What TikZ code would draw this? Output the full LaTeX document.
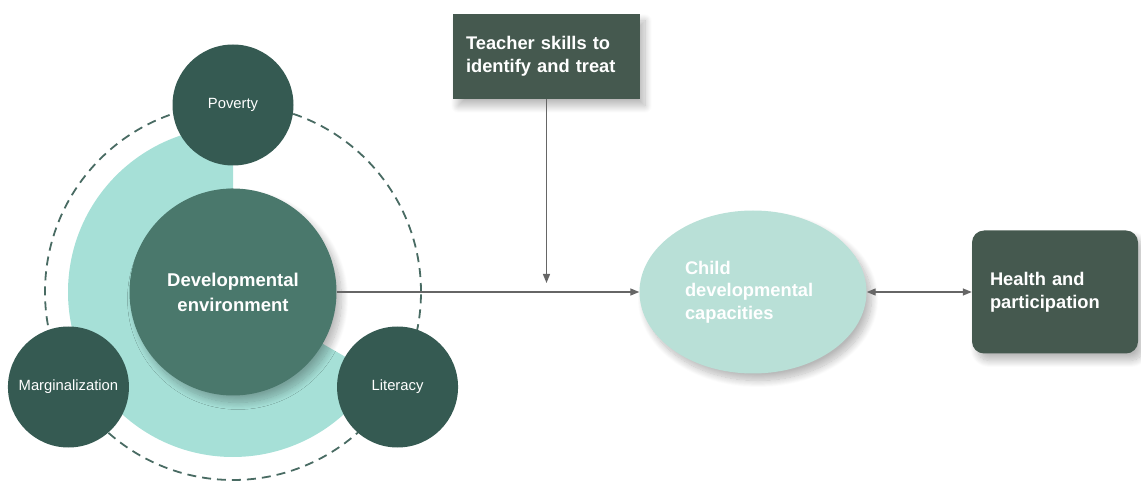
\documentclass[tikz,border=0pt]{standalone}
\usepackage{fontspec}
\setmainfont{Liberation Sans}
\usepackage{xcolor}
\usetikzlibrary{positioning, arrows.meta, shapes.geometric, shadows.blur}

\definecolor{pine}{HTML}{355A52}
\definecolor{sage}{HTML}{4A786C}
\definecolor{mint}{HTML}{A6E0D7}
\definecolor{seafoam}{HTML}{B9E0D7}
\definecolor{slate}{HTML}{45594F}
\definecolor{wire}{HTML}{666666}

\begin{document}
\begin{tikzpicture}[
    x=1pt, y=1pt,
    soft/.style={blur shadow={shadow xshift=5pt, shadow yshift=-7pt,
        shadow blur radius=7pt, shadow blur steps=14, shadow opacity=28}},
    hubnode/.style={
        circle, fill=sage, minimum size=207pt, inner sep=0pt, text=white,
        align=center, font=\fontsize{18.5}{25}\selectfont\bfseries, soft,
    },
    factor/.style={
        circle, fill=pine, minimum size=121pt, inner sep=0pt, text=white,
        font=\fontsize{14.8}{17}\selectfont,
    },
    card/.style={
        fill=slate, text=white, align=left, inner sep=0pt,
        font=\fontsize{18.3}{23}\selectfont\bfseries, soft,
    },
    outcome/.style={
        ellipse, fill=seafoam, minimum width=227pt, minimum height=163pt,
        inner sep=0pt, text=white, align=left,
        font=\fontsize{18.3}{22.5}\selectfont\bfseries, soft,
    },
    link/.style={draw=wire, line width=1.3pt, -{Triangle[length=9pt, width=7pt]}},
    orbit/.style={draw=pine!90, line width=1.8pt, dash pattern=on 9pt off 6pt},
]
\useasboundingbox (0,0) rectangle (1141,485);

\coordinate (hub) at (233,193);

% ring behind the environment
\draw[orbit] (hub) circle[radius=188];
\fill[mint] (hub) -- ++(90:165) arc[start angle=90, end angle=330, radius=165] -- cycle;

\node[hubnode] (env) at (hub) {Developmental\\environment};

\node[factor] (pov) at ([shift={(90:187)}]hub) {Poverty};
\node[factor] (marg) at ([shift={(210:190)}]hub) {Marginalization};
\node[factor] (lit) at ([shift={(330:190)}]hub) {Literacy};

\node[card, minimum width=187pt, minimum height=85pt, text width=161pt]
    (teacher) at (546.5,428.5) {Teacher skills to\\identify and treat};
\node[outcome, text width=136pt] (child) at (753,193) {Child\\developmental\\capacities};
\node[card, rounded corners=12pt, minimum width=166pt, minimum height=123pt,
    text width=130pt] (health) at (1055,193) {Health and\\participation};

\draw[link] (env.east) -- (child.west);
\draw[link, shorten >=9pt] (teacher.south) -- (teacher.south |- env.east);
\draw[link, {Triangle[length=9pt, width=7pt]}-{Triangle[length=9pt, width=7pt]}]
    (child.east) -- (health.west);

\end{tikzpicture}
\end{document}
